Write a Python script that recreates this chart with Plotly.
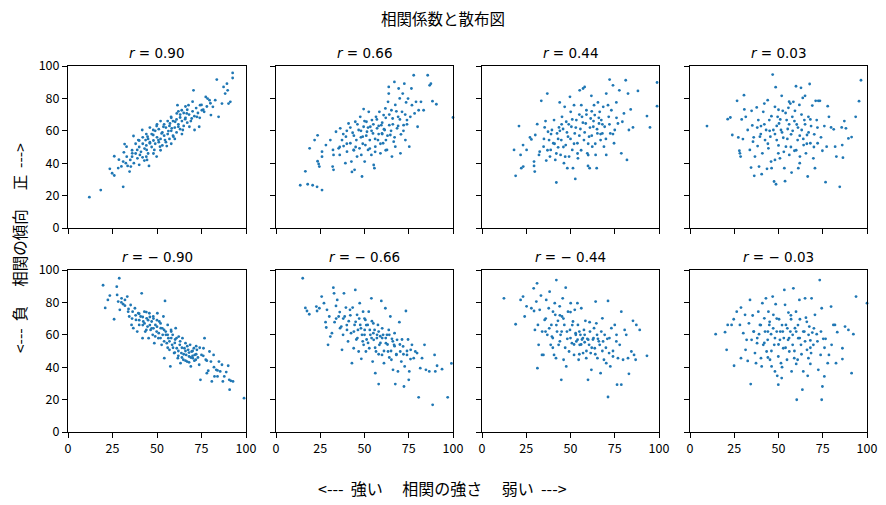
import plotly.graph_objects as go

# ---- data ----
titles = ["<i>r</i> = 0.90", "<i>r</i> = 0.66", "<i>r</i> = 0.44", "<i>r</i> = 0.03",
          "<i>r</i> = − 0.90", "<i>r</i> = − 0.66", "<i>r</i> = − 0.44", "<i>r</i> = − 0.03"]
x_ticks = [0, 25, 50, 75, 100]
y_ticks = [0, 20, 40, 60, 80, 100]

pts_p090 = [[12,19],[18.4,23.4],[31,25.4],[23.5,36.5],[24.8,33.8],[26,32.4],[26,44.3],[28.2,37],[28.6,42.2],[31.4,46.7],
 [31.8,51.8],[32.9,50.2],[34.6,34.8],[35.3,37.9],[33.5,38.3],[32.5,40],[36.1,46.1],[36.8,56.8],[39.5,54.3],[41.7,60.5],
 [38.9,48.2],[40.4,45.1],[41.9,43.6],[42.9,41.6],[44.4,42],[45.5,38.3],[44.2,48.2],[43.6,54.3],[44.7,56.4],[46,52.3],
 [47.9,57.4],[48.5,48.2],[49.8,44.1],[47.9,60.5],[49.8,62.9],[50.8,54.3],[51.7,50.2],[52.6,58.4],[53.6,62.5],[54.5,54.3],
 [55.5,50.6],[56.4,59.8],[57.3,64.5],[57.9,68.6],[58.3,61.5],[59.2,56.4],[60.2,65.6],[61.1,70.7],[61.5,75.8],[62,62.5],
 [63,68.2],[63.9,72.7],[64.5,60.5],[65.8,67.2],[66.7,70.7],[67.7,75.8],[68.2,62.5],[69.5,67.6],[70.5,85],[71.1,60.5],
 [72.4,68.6],[73.7,62.5],[74.2,75.8],[75.2,72.7],[76.5,71.7],[77.4,80.9],[78.4,79.9],[79.5,78.9],[80.3,69.7],[81.4,74.8],
 [82.7,78.9],[83.6,91.6],[84.6,68.6],[86.5,76.8],[87.4,87.1],[88.3,83],[89.3,89.1],[90.2,76.8],[91.2,77.9],[92.5,95.7],
 [92.5,92.6],[89.7,85],
 [35,42],[36,44],[37,40],[38,46],[39,43],[40,50],[41,47],[42,52],[43,49],[44,51],[45,46],[45,55],[46,53],[47,50],[47,58],
 [48,54],[49,52],[49,60],[50,56],[51,53],[51,61],[52,55],[53,59],[53,51],[54,57],[55,62],[55,53],[56,58],[57,55],[57,63],
 [58,60],[59,66],[59,57],[60,62],[61,59],[61,67],[62,64],[63,61],[63,70],[64,66],[65,63],[65,71],[66,68],[67,65],[67,73],
 [68,70],[69,66],[70,72],[71,69],[72,74],[73,71],[74,68],[75,76],[76,73],[78,75],[80,77],[42,56],[44,58],[50,64],[54,64],
 [58,68],[38,52],[36,48],[33,44],[31,41],[30,38],[40,54],[46,62],[52,66],[56,66],[62,72],[66,75],[70,78],[60,55],[64,58],
 [58,52],[48,46],[52,48],[44,44],[40,39]]

pts_p066 = [[13.7,26.4],[17.9,27],[20.7,26.4],[23.2,25.4],[26,23.4],[16.6,35],[19,49.2],[21.8,54.3],[23.5,57.2],[23.5,41.2],
 [24.1,39.5],[24.5,37.9],[26,44],[26,47.1],[28.2,51.2],[30.7,54.3],[32.2,48.2],[32.5,45.1],[32,37.9],[32.5,35.9],
 [33.9,59.4],[35.4,49.2],[36,45.1],[36.3,61.5],[37.3,54.3],[38.2,50.6],[39.2,40],[39.5,56.4],[40.1,47.1],[41,64.5],
 [42,52.3],[42.6,41],[42.9,34.6],[43.3,58.8],[43.9,48.2],[44.4,35.9],[44.8,65.6],[45.4,54.3],[45.8,44.1],[46.7,60.5],
 [47.2,49.2],[47.6,68.6],[48.2,45.1],[48.6,31.8],[49,56.4],[49.5,73.4],[49.5,62.5],[50.1,41],[50.5,51.2],[51.1,65.6],
 [51.4,59.4],[52,48.2],[52.4,71.7],[53,54.3],[53.3,62.5],[53.9,45.1],[54.2,66.6],[54.8,58.4],[55.2,38.9],[55.6,36.9],
 [56.1,50.2],[56.5,68.6],[57.1,61.5],[57.6,54.3],[58.4,71.7],[59,46.1],[59.5,63.5],[59.9,58.4],[60.5,52.3],[60.8,69.7],
 [61.4,60.5],[61.8,73.8],[62.1,54.3],[62.7,48.2],[63.3,77.9],[63.7,83],[63.7,87.1],[64,63.5],[64.6,57.4],[65.2,72.7],
 [65.5,44.1],[65.9,67.6],[66.5,53.3],[66.9,90.2],[67.4,76],[67.4,50.2],[68.4,61.5],[69,68.6],[69.3,86.1],[69.9,80],
 [70.3,46.1],[70.6,57.8],[71.2,71.7],[71.6,83],[72.1,63.5],[72.5,89.1],[73.1,54.3],[73.5,77.5],[74,66.6],[74.6,79.9],
 [75.3,50.2],[75.9,68.6],[76.5,86.1],[76.8,75.8],[77.8,94.3],[78.3,70.7],[79.1,77.9],[80,62.5],[80.6,72.7],[81.9,77.9],
 [85.7,94.3],[86.8,88.1],[87.5,89.1],[88.4,78.3],[90.6,76.4],[100,68.2],[83.4,72.7],
 [38,58],[40,52],[42,62],[44,57],[45,50],[46,64],[48,60],[49,52],[50,66],[51,57],[52,62],[53,49],[54,60],[55,64],[56,55],
 [57,67],[58,58],[59,52],[60,65],[61,61],[62,68],[63,57],[64,70],[65,60],[66,64],[67,56],[68,72],[69,63],[70,67],[72,60],
 [73,70],[74,64],[62,48],[56,47],[48,56],[44,48],[40,60],[36,50],[58,63],[60,58]]

pts_p044 = [[18.1,48.2],[19,32.2],[20.9,62.9],[21.8,45.1],[22.2,36.9],[23.3,37.9],[23.2,51.2],[25.2,48.2],[27.1,55.9],[27.9,54.7],
 [29.4,41],[29.4,38.3],[29.8,34.8],[30.1,57.4],[31.2,64.1],[32.2,45.1],[32.6,47.1],[33.5,78.5],[34.8,50.2],[35.4,62.1],
 [35.9,66],[36.3,41.6],[36.9,83],[37.3,59.4],[37.9,54.3],[38.4,44.1],[38.8,48.2],[39.5,60.5],[40.3,52.3],[40.7,66.6],
 [41.4,42],[42,28.1],[42.4,58.4],[43,49.8],[43.5,62.1],[43.9,77.5],[44.4,45.1],[44.8,54.3],[45.2,68.6],[45.8,61.1],
 [46.3,40],[46.7,74.8],[47.3,51.2],[47.6,65.6],[48.2,36.9],[48.6,56.4],[49.2,44.1],[49.7,81],[50.1,71.7],[50.5,62.5],
 [51,48.2],[51.4,36.9],[52,75.8],[52.4,58.4],[52.7,30.3],[53.3,66.6],[53.9,52.3],[54.2,43],[55.2,85],[55.6,61.1],
 [56.1,75.8],[56.5,68.6],[57.1,86.1],[57.6,54.3],[58,87.1],[58.6,64.5],[59,72.7],[59.5,46.1],[59.9,38.3],[60.5,56.4],
 [60.8,36.9],[61.4,67.6],[61.8,81.6],[62.3,50.2],[62.9,62.5],[63.3,75.8],[63.7,69.7],[64.2,45.1],[64.8,36.9],[65.2,58.4],
 [65.5,77.5],[66.1,64.5],[66.5,71.7],[67,54.3],[67.4,66.6],[68,58.4],[68.5,74.8],[68.9,50.2],[69.3,62.5],[70.2,45.1],
 [70.2,83],[71.2,75.8],[71.6,68.6],[72.1,91.6],[72.5,58.4],[73.1,72.7],[74,88.1],[74.6,52.3],[75,60.5],[75.9,77.5],
 [76.8,64.5],[77.6,85],[78.7,46.1],[79.3,65.6],[80.2,70.7],[81.2,91.2],[81.9,42],[82.5,83],[83,60.5],[84,73.2],
 [85.3,62.1],[88.1,84.6],[93.2,69.1],[94.9,62.1],[98.9,89.8],[98.9,75.2],
 [35,55],[37,48],[39,58],[41,52],[43,55],[45,64],[46,50],[48,59],[50,55],[51,67],[52,52],[53,62],[55,57],[56,48],[57,65],
 [58,59],[59,70],[60,52],[61,62],[62,57],[63,66],[64,52],[65,61],[66,68],[67,58],[68,64],[70,55],[72,64],[74,58],[76,68],
 [42,46],[47,44],[54,46],[60,45],[44,60],[49,64],[55,70],[62,72]]

pts_p003 = [[9.6,62.9],[21.3,67.2],[22.8,68.2],[23.9,57.4],[26.6,78.5],[27.3,55.9],[27.9,47.7],[28.2,46.1],[28.6,44.1],[29.2,67],
 [29.9,54.9],[30.5,82],[30.7,73.2],[31.5,68.6],[32.6,60.5],[33.8,48.2],[34.5,37.3],[34.8,72.3],[35.2,63.3],[35.6,53.3],
 [36.3,32.2],[36.7,44.1],[37.7,74.4],[38.2,50.6],[38.6,66.6],[39,37.9],[39.5,56.4],[40.1,62.9],[40.5,33.2],[40.9,46.1],
 [41.4,71.7],[42,76.8],[42.4,54.3],[43,60.5],[43.5,36.5],[43.9,78.9],[44.3,49.2],[44.8,66.6],[45.4,56.4],[45.8,41],
 [46.1,36.9],[46.7,94.7],[47.1,60.5],[47.5,28.7],[48,74.8],[48.4,86.9],[48.6,27],[49,54.3],[49.5,68.6],[49.9,46.1],
 [50.3,64.5],[50.8,43],[51.4,60.5],[51.8,81.6],[52.4,72.3],[52.7,55.7],[53.3,36.9],[53.7,28.9],[54.2,50.2],[54.6,66.6],
 [55.2,61.1],[55.6,74.2],[56.1,45.1],[56.7,76.8],[57.1,57.8],[57.4,34.2],[57.8,68.6],[58.4,77.9],[59,47.7],[59.3,72.3],
 [59.9,87.5],[60.3,63.9],[60.8,54.3],[61.2,36.9],[61.8,76],[62.1,44.1],[62.7,86.5],[63.1,60.5],[63.7,80.3],[64.2,51.2],
 [64.6,66.6],[65,81.6],[65.5,46.1],[66.1,57.4],[66.5,31.8],[66.9,68.6],[67.6,88.9],[68,52.3],[68.4,62.9],[69.1,75.6],
 [69.7,43],[70.2,57.8],[70.6,36.9],[71,78.5],[71.6,66.6],[72.1,52.3],[72.5,78.5],[73.4,78.5],[74.8,47.7],[75.9,62.9],
 [76.6,28.3],[77.2,50.2],[77.8,75.2],[78.5,68.6],[79.7,62.1],[81.2,60.9],[82,50.2],[82.7,44.1],[84.6,25.4],[85.7,62.1],
 [86,51.2],[86.4,43.4],[87.2,66],[88.1,61.5],[89.5,55.3],[91.3,56.1],[93.6,68.6],[95.5,78.3],[96.6,91.2],
 [40,58],[42,64],[44,52],[46,69],[48,58],[49,63],[50,51],[51,67],[52,59],[53,47],[54,71],[55,55],[56,64],[57,50],[58,60],
 [59,66],[60,48],[61,62],[62,57],[63,70],[64,55],[65,64],[66,52],[67,59],[68,67],[70,50],[72,62],[74,56],[45,60],[38,62],
 [36,56],[50,73],[56,78],[62,40],[48,42]]

pts_n090 = [[19.7,90.6],[20.9,76.6],[22.4,81.5],[23.5,84.2],[25.9,69.6],[27.4,89.7],[28.8,94.9],[27.6,84.6],[28.2,80.5],[29.1,75.4],
 [30.1,82.5],[31,78.9],[32,81.5],[33.3,83.6],[33.8,74.3],[34.4,71.3],[35.2,78.4],[35.7,66.1],[36.3,74.3],[36.7,64.1],
 [37.6,76.4],[38.2,69.2],[38.9,62],[39.5,73.3],[40,66.1],[40.8,71.3],[41.4,85.6],[41.9,57.9],[42.3,68.2],[42.9,74.3],
 [43.4,62],[44.2,70.2],[44.7,65.1],[45.3,57.9],[45.7,73.3],[46.4,63],[47,68.2],[47.6,60],[47.9,71.3],[48.5,54.8],
 [49.1,66.1],[49.8,62],[50.2,73.3],[50.8,57.9],[51.3,68.2],[52.1,64.1],[52.6,53.8],[53.2,60],[53.6,71.3],[54.1,45.6],
 [54.5,80.9],[54.9,62],[55.5,54.8],[56,66.1],[56.4,57.9],[57,50.7],[57.5,40.5],[57.9,63],[58.5,53.8],[58.8,60],
 [59.6,48.7],[60.2,57.1],[60.5,64.1],[61.1,51.7],[61.7,45.6],[62.2,58.9],[62.8,53.8],[63.2,42.5],[63.7,48.7],[64.3,57.9],
 [64.8,44.6],[65.4,51.7],[66,54.8],[66.4,47.6],[66.9,43.5],[67.5,50.7],[68,46.6],[68.6,53.8],[69,40.5],[69.5,49.7],
 [70.1,45.6],[70.7,51.7],[71.2,47.6],[71.8,44.6],[72.4,50.7],[73.7,41.5],[74.4,32.2],[75,47.6],[76.1,51.7],[76.7,57.9],
 [77.4,44.6],[78,36.3],[78.8,37.8],[79.5,49.7],[80.3,43.5],[80.8,31.2],[81.8,47.6],[82.3,34.3],[83.3,38.4],[84,34.3],
 [84.8,43.5],[85.5,37.4],[86.5,41.5],[87,31.2],[87.8,34.3],[88.9,37],[90,40.9],[90.6,32.2],[90.8,26.1],[91.5,31.6],
 [92.7,31.2],[98.9,20.9],
 [38,72],[40,69],[42,71],[43,67],[44,63],[45,69],[46,66],[47,64],[48,70],[49,59],[50,65],[51,61],[52,58],[53,64],[54,56],
 [55,60],[56,52],[57,56],[58,62],[59,52],[60,55],[61,58],[62,50],[63,56],[64,52],[65,48],[66,50],[67,53],[68,49],[69,46],
 [70,50],[71,44],[72,48],[73,46],[74,52],[62,47],[60,49],[58,58],[56,60],[54,63],[52,67],[50,69],[48,64],[46,71],[44,74],
 [42,66],[40,73],[36,70],[34,76],[32,78],[30,80],[66,44],[68,43],[64,46],[70,47],[72,53],[76,47],[78,44],[82,40],[84,38]]

pts_n066 = [[15.1,94.9],[16.6,76.6],[17.5,74.7],[18.8,72.7],[22.8,77.4],[23.2,74.7],[24.5,76.4],[25.8,83.6],[27.1,79.5],[28,67.8],
 [28.4,64.5],[28.8,75.4],[29.4,53.8],[30.1,71.3],[30.7,58.9],[31.6,61],[32.4,89.1],[32.8,85.6],[33.1,67.8],[33.9,77.8],
 [34.6,81.5],[35.4,71.3],[36.2,64.1],[36.9,65.1],[37.3,50.7],[37.9,60],[38.4,85.6],[38.8,71.3],[39.5,76.8],[40.1,63],
 [40.7,55.9],[41.1,68.4],[41.8,75.4],[42.4,61],[42.9,42.5],[43.3,76.8],[43.9,51.7],[44.4,66.1],[44.8,87.7],[45.4,57.1],
 [45.8,72.3],[46.3,63],[46.7,49.7],[47.3,79.5],[47.6,66.1],[48.2,45.2],[48.6,60],[49.2,74.3],[49.5,53.8],[50.1,63],
 [50.5,69.2],[50.8,49.7],[51.2,57.1],[51.8,66.1],[52.4,74.3],[52.7,51.7],[53.3,60],[53.9,82.5],[54.2,68.4],[54.6,43.5],
 [55.2,56.9],[55.7,63],[56.1,36.3],[56.5,49.7],[57.1,60],[57.6,66.1],[58,29.6],[58.4,53.8],[58.9,59.1],[59.5,80.9],
 [59.9,47.6],[60.5,60],[61,42.5],[61.8,76.4],[62.1,54.8],[62.7,60],[63.3,49.7],[63.7,63],[64.6,71.3],[65.2,44.6],
 [65.5,57.5],[66.1,38.4],[66.7,53.8],[67,61],[67.4,29.6],[68,47.6],[68.4,56.9],[68.9,37.4],[69.7,67.8],[70.2,49.7],
 [70.8,43.5],[71.2,57.1],[71.8,52.8],[72.3,28.1],[72.7,40.5],[73.4,74.7],[74,47.6],[74.6,57.1],[75,32.2],[75.3,37.4],
 [76.1,50.7],[76.8,53.8],[77.8,45.6],[78.7,49.7],[79.7,48.7],[80.6,21.4],[81.5,39.4],[82.5,45.6],[83.9,53.8],[84.7,38.4],
 [86.6,37.4],[88.5,16.8],[89.6,47.6],[90,37.4],[91,40.9],[93.8,38.8],[97,21.4],[99.1,42.3],
 [38,70],[40,66],[42,72],[44,62],[45,68],[46,58],[47,70],[48,64],[49,56],[50,60],[51,66],[52,55],[53,63],[54,58],[55,61],
 [56,52],[57,58],[58,62],[59,55],[60,58],[61,50],[62,58],[63,54],[64,60],[65,50],[66,56],[67,53],[68,48],[70,54],[72,48],
 [74,50],[76,45],[36,74],[34,70],[50,70],[55,67],[60,64],[64,46],[58,48]]

pts_n044 = [[12.4,82.5],[19,66.5],[21.8,81.5],[23.2,83.6],[24.1,71.3],[25.2,77.6],[27.9,76.4],[29.2,88.7],[29.4,74.7],[29.9,63],
 [30.7,80.5],[31.1,91.8],[31.3,39.4],[31.6,66.1],[32,53.8],[32.6,75.4],[33.3,84.2],[33.9,47.6],[34.7,47.6],[35.4,69.2],
 [35.9,62],[36.3,81.5],[36.9,60],[37.7,76.4],[38.2,86.6],[38.8,53.8],[39.2,66.1],[39.5,58.9],[40.1,74.3],[40.7,47.6],
 [41.1,79.5],[41.4,72.3],[41.8,45.6],[42,93.8],[42.4,62],[42.9,68.6],[43.3,53.8],[43.9,77.6],[44.4,60],[44.8,32.2],
 [45.2,71.3],[45.6,82.5],[46.1,44.6],[46.5,66.1],[47.3,89.1],[47.6,40.5],[48.2,57.5],[48.6,74.3],[49.2,49.7],[49.7,63],
 [50.1,79.5],[50.8,54.8],[51.4,68.2],[52,47.6],[52.4,75.4],[52.9,61],[53.3,55.9],[53.9,79.5],[54.2,66.1],[54.6,44.6],
 [55.2,53.8],[55.6,60],[56.1,76.4],[56.5,57.1],[57.1,48.7],[57.6,63],[58,55.4],[58.4,68.6],[58.9,45.6],[59.5,57.5],
 [59.9,32.2],[60.5,53.8],[60.8,67.8],[61.4,48.7],[61.8,38.4],[62.7,57.1],[63.3,64.1],[63.7,51.7],[64.2,80.5],[64.6,67.1],
 [65.2,45.6],[65.5,57.5],[66.5,53.8],[67,36.3],[67.4,62],[68,70.2],[68.4,55.9],[68.9,44.6],[69.3,60],[70.2,42.5],
 [70.8,57.5],[71.2,80.9],[71.2,21.6],[71.8,48.7],[72.5,40.5],[73.1,64.1],[74,46.6],[75,66.1],[75.9,55.9],[76.3,29.2],
 [76.8,45.6],[77.8,53.8],[78.7,29.2],[78.7,74.3],[79.7,44.6],[80.6,63],[81.5,60],[82.5,45.6],[83,35.9],[84.4,49.7],
 [85.3,68.6],[85.9,47.6],[86.8,44.6],[87.2,66.1],[89.1,63],[93.2,47],
 [34,62],[36,70],[38,64],[40,58],[42,66],[44,56],[45,62],[46,70],[47,52],[48,62],[50,58],[51,66],[52,54],[53,60],[54,57],
 [55,62],[56,54],[57,58],[58,60],[59,50],[60,57],[61,62],[62,52],[63,58],[64,48],[65,60],[66,56],[68,50],[70,52],[72,58],
 [74,50],[76,60],[44,72],[50,74],[40,52],[55,48]]

pts_n003 = [[14.5,60.4],[19.8,61.6],[20.7,50.7],[21.3,66.1],[23.5,66.1],[24.7,69.6],[24.9,40.9],[26.4,74.3],[28.2,66.1],[28.8,76.8],
 [28.8,45.6],[30.1,61],[31.1,72.3],[31.4,50.7],[32,56.9],[32.6,43.9],[33.3,67.1],[33.9,81.5],[34.3,29.6],[34.8,56.9],
 [35.4,71.9],[36,62],[36.7,48.7],[37.3,42.5],[37.9,54.8],[38.6,74.3],[39,60.4],[39.5,66.1],[40.1,45.6],[40.5,40.5],
 [40.9,79.5],[41.4,53.8],[42,70.2],[42.4,62],[42.9,82.5],[43.3,49.7],[43.9,56.9],[44.3,74.3],[44.8,66.1],[45.2,44.6],
 [45.8,60.4],[46.1,40.5],[46.7,83.6],[47.1,72.3],[47.6,53.8],[48,37.4],[48.4,78.9],[49,62],[49.3,34.7],[49.9,46.6],
 [49.9,29.2],[50.3,69.6],[50.8,56.9],[51.4,42.5],[51.8,33.3],[52.4,62],[52.7,51.7],[53.3,87.7],[53.7,78.5],[54.2,66.1],
 [54.8,44.6],[55.4,56.9],[55.6,73.7],[56.1,49.7],[56.7,62],[57.1,69.6],[57.4,37.4],[58,53.8],[58.4,88.7],[58.9,45.6],
 [59.3,64.1],[59.9,74.3],[60.3,19.9],[60.8,44.6],[61.2,57.9],[61.8,81.5],[62.1,69.6],[62.7,53.8],[63.5,26.1],[64,37.4],
 [64.6,62],[65,82.5],[65.5,70.6],[66.1,50.7],[66.5,34.7],[66.9,45.6],[67.4,65.1],[68,56.5],[68.4,48.7],[68.7,82.5],
 [69.1,61.4],[69.7,53.8],[70.6,72.3],[71.6,60.4],[72.5,38.4],[73.3,93.8],[73.8,47.6],[74.4,76.4],[74.4,19.9],[74.8,28.1],
 [75.3,57.5],[75.9,34.3],[76.6,57.5],[77.8,42.5],[78.5,47.6],[79.7,77.4],[80,53.8],[81,66.1],[81.9,66.1],[82.5,42.5],
 [83.2,61.6],[86.1,51.7],[86.1,45],[87.6,65.1],[89.5,63],[91.3,36.3],[92.3,60.4],[93.8,83.6],[100,79.5],
 [36,62],[38,58],[40,66],[42,55],[44,62],[45,68],[46,50],[47,64],[48,58],[49,70],[50,54],[51,62],[52,66],[53,58],[54,52],
 [55,64],[56,58],[57,72],[58,60],[59,50],[60,62],[61,66],[62,58],[63,48],[64,62],[65,56],[66,68],[67,60],[68,52],[70,64],
 [72,56],[74,62],[76,52],[44,46],[52,40],[60,42],[68,42]]

panels = [pts_p090, pts_p066, pts_p044, pts_p003, pts_n090, pts_n066, pts_n044, pts_n003]

# ---- layout geometry (page pixels; the page body adds an 8px offset) ----
OFF = 8
W, H = 886 - OFF, 505 - OFF


def fx(px):
    return (px - OFF) / W


def fy(py):
    return 1 - (py - OFF) / H


x_dom = [(fx(68), fx(246)), (fx(276), fx(453)), (fx(482), fx(659)), (fx(690), fx(867))]
y_dom = [(fy(228), fy(66)), (fy(432), fy(270))]

FONT = "Noto Sans CJK JP, Noto Sans, sans-serif"
BLUE = "#1f77b4"

fig = go.Figure()
layout = dict(width=W, height=H, template="none",
              margin=dict(l=0, r=0, t=0, b=0, pad=0, autoexpand=False),
              paper_bgcolor="white", plot_bgcolor="white", showlegend=False,
              font=dict(family=FONT, size=12, color="black"))
annotations = []

for i, pts in enumerate(panels):
    row, col = divmod(i, 4)
    n = i + 1
    xa = "x" if n == 1 else f"x{n}"
    ya = "y" if n == 1 else f"y{n}"
    fig.add_trace(go.Scatter(
        x=[p[0] for p in pts], y=[p[1] for p in pts], mode="markers",
        marker=dict(size=2.8, color=BLUE, line=dict(width=0)),
        xaxis=xa, yaxis=ya, hoverinfo="skip", cliponaxis=False))
    common = dict(range=[0, 100], showgrid=False, zeroline=False, showline=True,
                  linecolor="black", linewidth=1, mirror=True, ticks="outside",
                  ticklen=5, tickwidth=1, tickcolor="black", automargin=False,
                  tickfont=dict(family=FONT, size=12.5, color="black"))
    layout["xaxis" if n == 1 else f"xaxis{n}"] = dict(
        common, domain=list(x_dom[col]), anchor=ya, tickvals=x_ticks,
        showticklabels=(row == 1))
    layout["yaxis" if n == 1 else f"yaxis{n}"] = dict(
        common, domain=list(y_dom[row]), anchor=xa, tickvals=y_ticks,
        showticklabels=(col == 0))
    annotations.append(dict(
        text=titles[i], xref="paper", yref="paper",
        x=(x_dom[col][0] + x_dom[col][1]) / 2, y=y_dom[row][1],
        xanchor="center", yanchor="bottom", yshift=3, showarrow=False,
        font=dict(family="DejaVu Sans, " + FONT, size=13.5, color="black")))

annotations.append(dict(text="相関係数と散布図", xref="paper", yref="paper",
                        x=fx(443), y=fy(18), xanchor="center", yanchor="middle",
                        showarrow=False, font=dict(family=FONT, size=15.5, color="black")))
annotations.append(dict(text="&lt;---  強い　 相関の強さ　 弱い  ---&gt;", xref="paper", yref="paper",
                        x=fx(442), y=fy(488), xanchor="center", yanchor="middle",
                        showarrow=False, font=dict(family=FONT, size=16, color="black")))
annotations.append(dict(text="&lt;---  負　 相関の傾向　 正  ---&gt;", xref="paper", yref="paper",
                        x=fx(19), y=fy(248), xanchor="center", yanchor="middle", textangle=-90,
                        showarrow=False, font=dict(family=FONT, size=15.5, color="black")))
layout["annotations"] = annotations
fig.update_layout(**layout)
fig.write_html("out.html")
